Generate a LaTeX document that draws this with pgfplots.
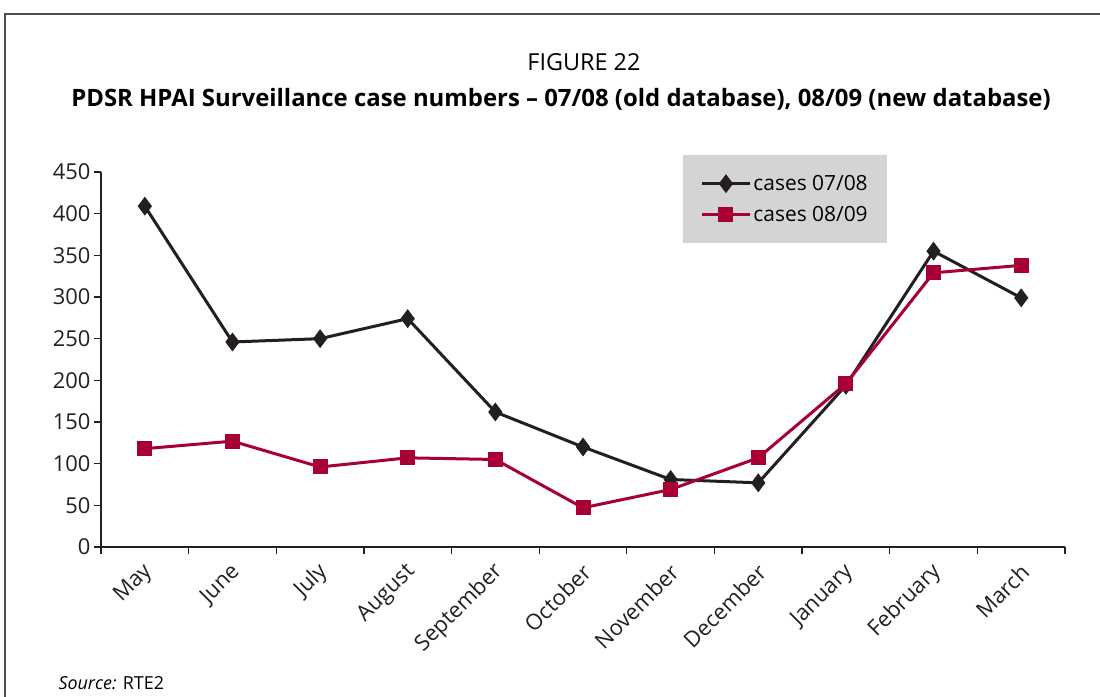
\documentclass[border=0pt]{standalone}
\usepackage{pgfplots}
\pgfplotsset{compat=1.18}
\usepackage{fontspec}
\setmainfont{Open Sans}
\definecolor{redline}{RGB}{168,0,52}
\definecolor{blackline}{RGB}{35,31,32}
\definecolor{legbg}{RGB}{212,212,214}
\begin{document}
\begin{tikzpicture}
\useasboundingbox (0,0) rectangle (1100bp,697bp);
\draw[line width=1.5bp, color=black!70] (5bp,0) -- (5bp,683bp) -- (1100bp,683bp);
\node[font=\fontsize{23.5}{28}\selectfont] at (584bp,635bp) {FIGURE 22};
\node[font=\fontsize{24}{29}\selectfont\bfseries] at (561bp,598bp) {PDSR HPAI Surveillance case numbers – 07/08 (old database), 08/09 (new database)};
\node[anchor=west, font=\fontsize{18}{22}\selectfont] at (55bp,14bp) {\textit{Source:} RTE2};
\begin{axis}[
  at={(101bp,150bp)}, anchor=south west,
  scale only axis, width=964bp, height=375bp,
  xmin=-0.5, xmax=10.5, ymin=0, ymax=450,
  axis x line=bottom, axis y line=left,
  axis line style={-, line width=1.3bp, color=blackline},
  xtick={-0.5,0.5,...,10.5}, xticklabels={},
  extra x ticks={0,1,2,3,4,5,6,7,8,9,10},
  extra x tick labels={May,June,July,August,September,October,November,December,January,February,March},
  extra x tick style={major tick length=0pt},
  ytick={0,50,...,450},
  tick align=outside, major tick length=7bp,
  tick style={line width=1.3bp, color=blackline},
  xticklabel style={rotate=45, anchor=east, font=\fontsize{22}{26}\selectfont, text=blackline, yshift=-18bp, xshift=-9bp},
  yticklabel style={font=\fontsize{22}{26}\selectfont, text=blackline},
  /pgf/number format/assume math mode=true,
  legend style={at={(0.604,1.045)}, anchor=north west, fill=legbg, draw=none,
    font=\fontsize{21}{25}\selectfont, inner xsep=17bp, inner ysep=18bp, row sep=10bp},
  legend cell align=left,
  legend image code/.code={\draw[mark repeat=2,mark phase=2] plot coordinates {(0bp,0bp) (24bp,0bp) (48bp,0bp)};},
]
\addplot[color=blackline, line width=3bp, mark=diamond*, mark size=7bp, mark options={solid}] coordinates {
(0,409) (1,246) (2,250) (3,274) (4,162) (5,120) (6,81) (7,77) (8,194) (9,355) (10,299)};
\addlegendentry{cases 07/08}
\addplot[color=redline, line width=3bp, mark=square*, mark size=6bp, mark options={solid}] coordinates {
(0,118) (1,127) (2,96) (3,107) (4,105) (5,47) (6,69) (7,107) (8,196) (9,329) (10,338)};
\addlegendentry{cases 08/09}
\end{axis}
\end{tikzpicture}
\end{document}
